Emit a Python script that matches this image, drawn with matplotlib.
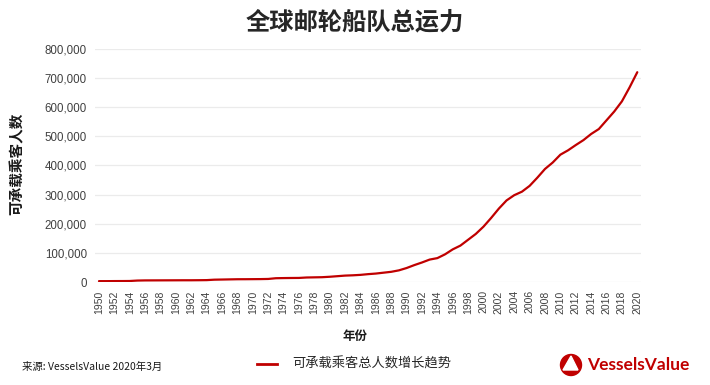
import matplotlib
matplotlib.use("Agg")
import matplotlib.pyplot as plt
from matplotlib.patches import Circle, Polygon
from matplotlib.ticker import FuncFormatter

plt.rcParams["font.family"] = ["Noto Sans CJK SC", "DejaVu Sans"]

# data
years = list(range(1950, 2021))
passengers = [
    3000, 3000, 3200, 3300, 3500, 5000, 5500, 5600, 5700, 5800,
    5900, 6000, 6000, 6200, 6500, 8000, 8500, 9000, 9500, 9600,
    9800, 10000, 10500, 13000, 13500, 13800, 14000, 15500, 16000, 16500,
    18000, 20000, 22000, 23000, 24500, 27000, 29000, 32000, 35000, 40000,
    48000, 58000, 67000, 77000, 82000, 95000, 112000, 125000, 145000, 165000,
    190000, 220000, 252000, 280000, 298000, 310000, 330000, 358000, 388000, 410000,
    437000, 452000, 470000, 487000, 508000, 525000, 555000, 585000, 620000, 668000,
    720000,
]
year_ticks = list(range(1950, 2021, 2))
y_ticks = list(range(0, 800001, 100000))

title = "全球邮轮船队总运力"
y_label = "可承载乘客人数"
x_label = "年份"
legend_label = "可承载乘客总人数增长趋势"
source = "来源: VesselsValue 2020年3月"

red = "#c00000"

fig = plt.figure(figsize=(7.1, 3.85), dpi=100)
ax = fig.add_axes([0.134, 0.2675, 0.769, 0.6055])

ax.plot(years, passengers, color=red, lw=1.6, solid_capstyle="round")

ax.set_xlim(1949.5, 2020.5)
ax.set_ylim(0, 800000)
ax.set_xticks(year_ticks)
ax.set_xticklabels([str(y) for y in year_ticks], rotation=90, fontsize=7.5,
                   color="#404040", family=["Liberation Sans", "DejaVu Sans"])
ax.set_yticks(y_ticks)
ax.yaxis.set_major_formatter(FuncFormatter(lambda v, p: f"{int(v):,}"))
for lbl in ax.get_yticklabels():
    lbl.set_fontsize(8.3)
    lbl.set_color("#404040")
    lbl.set_family(["Liberation Sans", "DejaVu Sans"])
ax.tick_params(axis="both", length=0, pad=6)
ax.grid(axis="y", color="#ebebeb", lw=0.9)
ax.set_axisbelow(True)
for s in ax.spines.values():
    s.set_visible(False)

fig.text(0.5, 0.943, title, ha="center", va="center", fontsize=17.5, fontweight="bold",
         color="#262626")
fig.text(0.024, 0.575, y_label, ha="center", va="center", rotation=90, fontsize=10.5,
         fontweight="bold", color="#1a1a1a")
fig.text(0.5, 0.125, x_label, ha="center", va="center", fontsize=9, fontweight="bold",
         color="#1a1a1a")

# legend
fig.add_artist(plt.Line2D([257 / 710, 277 / 710], [1 - 364 / 385] * 2, color=red, lw=2))
fig.text(292 / 710, 1 - 364 / 385, legend_label, ha="left", va="center", fontsize=9.5,
         color="#262626")

fig.text(22 / 710, 1 - 367 / 385, source, ha="left", va="center", fontsize=7.5,
         color="#1a1a1a")

# logo
cy = 1 - 365 / 385
circ = Circle((571, 385 - 365), 10.5, transform=None, color=red)
fig.patches.append(circ)
tri = Polygon([[563, 385 - 370], [571, 385 - 356], [578, 385 - 370]], closed=True,
              transform=None, color="white")
fig.patches.append(tri)
fig.text(587 / 710, cy, "VesselsValue", ha="left", va="center", fontsize=12.5,
         fontweight="bold", color=red, family=["Lato", "DejaVu Sans"])

fig.savefig("out.png", dpi=100)
